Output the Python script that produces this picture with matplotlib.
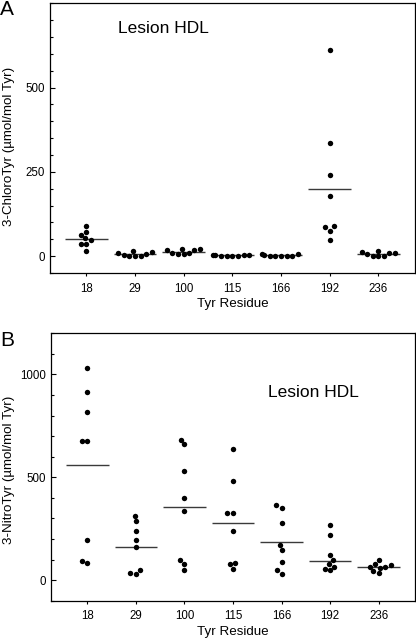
import matplotlib
matplotlib.use('Agg')
import matplotlib.pyplot as plt
import numpy as np
import pandas as pd
import seaborn as sns
from matplotlib.ticker import MultipleLocator, FixedLocator

plt.rcParams['font.family'] = ['Liberation Sans', 'DejaVu Sans']

residues = ['18', '29', '100', '115', '166', '192', '236']

# panel A: 3-chlorotyrosine, one list per residue
chloro_tyr = [
    [88, 72, 62, 53, 47, 37, 36, 16],
    [8, 3, 0, 15, 0, 1, 5, 11],
    [17, 10, 7, 22, 7, 10, 17, 20],
    [3, 2, 1, 1, 1, 1, 2, 3],
    [5, 0, 0, 0, 0, 1, 3, 7],
    [611, 335, 240, 179, 88, 86, 76, 48],
    [9, 5, 0, 16, 0, 1, 8, 11],
]
chloro_mean = [50, 5, 13, 2, 2, 199, 6]
chloro_ticks = [0, 250, 500]

# panel B: 3-nitrotyrosine
nitro_tyr = [
    [1033, 914, 815, 674, 674, 195, 92, 82],
    [311, 285, 237, 196, 160, 49, 36, 29],
    [681, 660, 532, 400, 337, 97, 79, 49],
    [636, 483, 324, 324, 238, 81, 76, 54],
    [365, 353, 279, 169, 144, 89, 47, 29],
    [267, 219, 122, 97, 76, 66, 55, 49],
    [97, 76, 73, 65, 65, 60, 45, 34],
]
nitro_mean = [559, 162, 355, 277, 186, 91, 65]
nitro_ticks = [0, 500, 1000]

fig = plt.figure(figsize=(4.16, 6.38), dpi=100)
ax_a = fig.add_axes([0.120, 0.5721, 0.8774, 0.4227])
ax_b = fig.add_axes([0.1226, 0.0585, 0.8750, 0.4191])


def draw_panel(ax, values, means, ylim, ticks, minor, ylabel, label_x, label_y):
    df = pd.DataFrame({
        'res': np.repeat(residues, [len(v) for v in values]),
        'val': np.concatenate(values),
    })
    sns.swarmplot(data=df, x='res', y='val', order=residues, color='black',
                  size=3.9, ax=ax)
    pos = np.arange(len(residues))
    ax.hlines(means, pos - 0.44, pos + 0.44, color='#3a3a3a', lw=1.0)
    ax.set_xlim(-0.75, 6.75)
    ax.set_ylim(*ylim)
    ax.yaxis.set_major_locator(FixedLocator(ticks))
    ax.yaxis.set_minor_locator(MultipleLocator(minor))
    ax.tick_params(axis='y', which='major', direction='in', length=3.5,
                   width=0.8, labelsize=8.3, pad=3.4)
    ax.tick_params(axis='y', which='minor', direction='in', length=1.8,
                   width=0.8)
    ax.tick_params(axis='x', direction='out', length=2.5, width=0.8,
                   labelsize=8.3, pad=4.5)
    ax.set_xlabel('Tyr Residue', fontsize=9.6, labelpad=2.5)
    ax.set_ylabel(ylabel, fontsize=9.6)
    ax.yaxis.set_label_coords(label_x, label_y)
    for sp in ax.spines.values():
        sp.set_linewidth(0.9)
        sp.set_color('black')


draw_panel(ax_a, chloro_tyr, chloro_mean, (-50, 750), chloro_ticks, 50,
           '3-ChloroTyr (\u00b5mol/mol Tyr)', -0.096, 0.468)
draw_panel(ax_b, nitro_tyr, nitro_mean, (-100, 1200), nitro_ticks, 100,
           '3-NitroTyr (\u00b5mol/mol Tyr)', -0.099, 0.489)

ax_a.text(0.31, 0.905, 'Lesion HDL', transform=ax_a.transAxes, fontsize=12.5,
          ha='center', va='center')
ax_b.text(0.722, 0.78, 'Lesion HDL', transform=ax_b.transAxes, fontsize=12.5,
          ha='center', va='center')

fig.text(0.0, 1 - 15 / 638, 'A', fontsize=15, ha='left', va='baseline')
fig.text(0.0, 1 - 346 / 638, 'B', fontsize=15, ha='left', va='baseline')

fig.savefig('out.png', dpi=100)
